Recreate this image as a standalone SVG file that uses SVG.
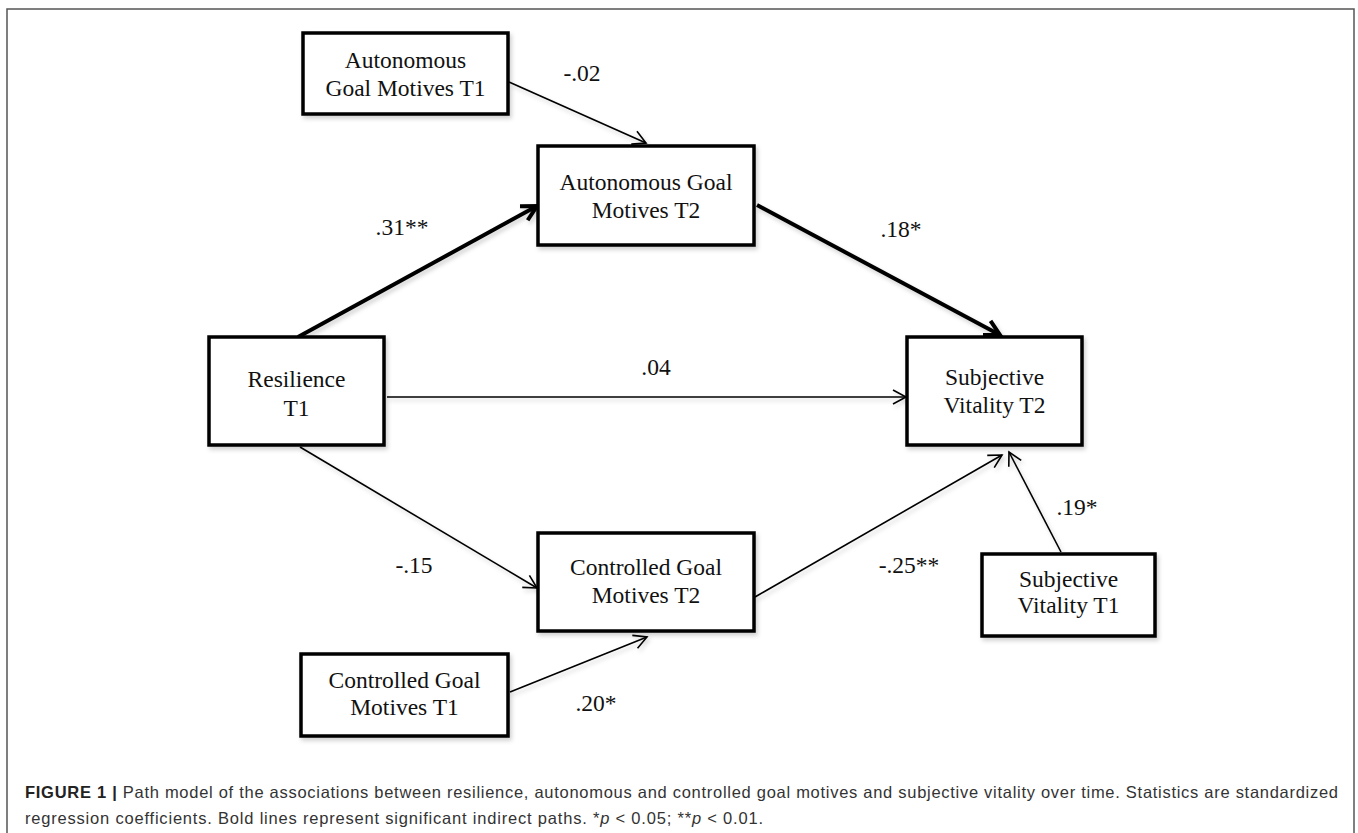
<svg xmlns="http://www.w3.org/2000/svg" width="1358" height="833" viewBox="0 0 1358 833">
<style>
  .box { fill: #ffffff; stroke: #000000; stroke-width: 3.5; }
  .lbl { font-family: "Liberation Serif", "Times New Roman", serif; font-size: 23.5px; fill: #111111; text-anchor: middle; }
  .coef { font-family: "Liberation Serif", "Times New Roman", serif; font-size: 23.5px; fill: #111111; text-anchor: middle; }
  .thin { fill: none; stroke: #000000; stroke-width: 1.6; }
  .bold { fill: none; stroke: #000000; stroke-width: 4; }
  .cap { font-family: "Liberation Sans", Arial, sans-serif; font-size: 16.5px; fill: #333333; }
</style>
<defs>
  <filter id="sh" x="-10%" y="-10%" width="130%" height="130%">
    <feDropShadow dx="2" dy="3" stdDeviation="2" flood-color="#000000" flood-opacity="0.18"/>
  </filter>
  <marker id="arrThin" markerUnits="userSpaceOnUse" markerWidth="20" markerHeight="20" viewBox="-2 -2 20 20" refX="13" refY="7" orient="auto">
    <path d="M0,0 L13,7 L0,14" fill="none" stroke="#000000" stroke-width="1.6"/>
  </marker>
  <marker id="arrBold" markerUnits="userSpaceOnUse" markerWidth="26" markerHeight="26" viewBox="-4 -4 26 26" refX="15" refY="8" orient="auto">
    <path d="M0,0 L15,8 L0,16" fill="none" stroke="#000000" stroke-width="4"/>
  </marker>
</defs>

<rect x="7" y="9" width="1347" height="840" fill="#ffffff" stroke="#555555" stroke-width="1.5"/>

<g id="connectors" filter="url(#sh)">
  <line class="thin" x1="509" y1="82" x2="646" y2="143" marker-end="url(#arrThin)"/>
  <line class="bold" x1="298" y1="337" x2="537" y2="206" marker-end="url(#arrBold)"/>
  <line class="bold" x1="757" y1="205" x2="1000" y2="335" marker-end="url(#arrBold)"/>
  <line class="thin" x1="387" y1="397" x2="906" y2="397" marker-end="url(#arrThin)"/>
  <line class="thin" x1="300" y1="447" x2="537" y2="588" marker-end="url(#arrThin)"/>
  <line class="thin" x1="510" y1="692" x2="647" y2="637" marker-end="url(#arrThin)"/>
  <line class="thin" x1="755" y1="597" x2="1002" y2="455" marker-end="url(#arrThin)"/>
  <line class="thin" x1="1061" y1="552" x2="1009" y2="452" marker-end="url(#arrThin)"/>
</g>

<g id="coefficients">
  <text class="coef" x="582" y="81">-.02</text>
  <text class="coef" x="402" y="235">.31**</text>
  <text class="coef" x="901" y="237">.18*</text>
  <text class="coef" x="656" y="375">.04</text>
  <text class="coef" x="414" y="573">-.15</text>
  <text class="coef" x="909" y="573">-.25**</text>
  <text class="coef" x="1077" y="515">.19*</text>
  <text class="coef" x="596" y="711">.20*</text>
</g>

<g id="node-agm-t1">
  <rect class="box" x="303" y="33" width="205" height="81" filter="url(#sh)"/>
  <text class="lbl" x="405.5" y="68">Autonomous</text>
  <text class="lbl" x="405.5" y="96">Goal Motives T1</text>
</g>

<g id="node-agm-t2">
  <rect class="box" x="538" y="146" width="216" height="99" filter="url(#sh)"/>
  <text class="lbl" x="646" y="190">Autonomous Goal</text>
  <text class="lbl" x="646" y="218">Motives T2</text>
</g>

<g id="node-resilience">
  <rect class="box" x="209" y="337" width="175" height="108" filter="url(#sh)"/>
  <text class="lbl" x="296.5" y="387">Resilience</text>
  <text class="lbl" x="296.5" y="416">T1</text>
</g>

<g id="node-sv-t2">
  <rect class="box" x="907" y="337" width="175" height="108" filter="url(#sh)"/>
  <text class="lbl" x="994.5" y="385">Subjective</text>
  <text class="lbl" x="994.5" y="413">Vitality T2</text>
</g>

<g id="node-cgm-t2">
  <rect class="box" x="538" y="533" width="216" height="98" filter="url(#sh)"/>
  <text class="lbl" x="646" y="575">Controlled Goal</text>
  <text class="lbl" x="646" y="603">Motives T2</text>
</g>

<g id="node-cgm-t1">
  <rect class="box" x="301" y="654" width="207" height="82" filter="url(#sh)"/>
  <text class="lbl" x="404.5" y="688">Controlled Goal</text>
  <text class="lbl" x="404.5" y="715">Motives T1</text>
</g>

<g id="node-sv-t1">
  <rect class="box" x="982" y="554" width="173" height="82" filter="url(#sh)"/>
  <text class="lbl" x="1068.5" y="587">Subjective</text>
  <text class="lbl" x="1068.5" y="613">Vitality T1</text>
</g>

<g id="caption">
  <text class="cap" x="25" y="798" textLength="1313" lengthAdjust="spacing"><tspan font-weight="bold" fill="#222222">FIGURE 1 |</tspan> Path model of the associations between resilience, autonomous and controlled goal motives and subjective vitality over time. Statistics are standardized</text>
  <text class="cap" x="25" y="824" textLength="738" lengthAdjust="spacing">regression coefficients. Bold lines represent significant indirect paths. *<tspan font-style="italic">p</tspan> &lt; 0.05; **<tspan font-style="italic">p</tspan> &lt; 0.01.</text>
</g>
</svg>
